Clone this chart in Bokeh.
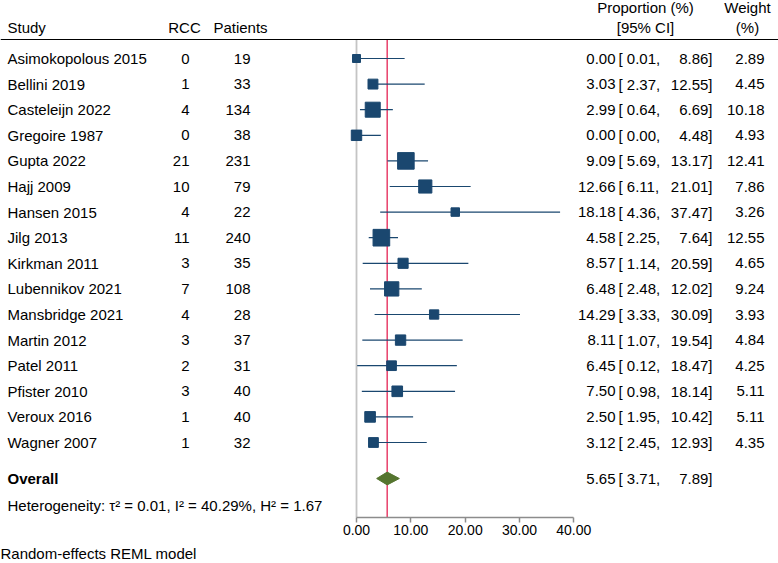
import numpy as np
from bokeh.plotting import figure
from bokeh.models import Range1d, FixedTicker, NumeralTickFormatter, Span, Title, ColumnDataSource
from bokeh.core.properties import value
from bokeh.embed import file_html
from bokeh.resources import INLINE

studies = ["Asimokopolous 2015", "Bellini 2019", "Casteleijn 2022", "Gregoire 1987",
           "Gupta 2022", "Hajj 2009", "Hansen 2015", "Jilg 2013", "Kirkman 2011",
           "Lubennikov 2021", "Mansbridge 2021", "Martin 2012", "Patel 2011",
           "Pfister 2010", "Veroux 2016", "Wagner 2007"]
rcc = [0, 1, 4, 0, 21, 10, 4, 11, 3, 7, 4, 3, 2, 3, 1, 1]
patients = [19, 33, 134, 38, 231, 79, 22, 240, 35, 108, 28, 37, 31, 40, 40, 32]
prop = [0.00, 3.03, 2.99, 0.00, 9.09, 12.66, 18.18, 4.58, 8.57, 6.48, 14.29, 8.11, 6.45, 7.50, 2.50, 3.12]
lower = [0.01, 2.37, 0.64, 0.00, 5.69, 6.11, 4.36, 2.25, 1.14, 2.48, 3.33, 1.07, 0.12, 0.98, 1.95, 2.45]
upper = [8.86, 12.55, 6.69, 4.48, 13.17, 21.01, 37.47, 7.64, 20.59, 12.02, 30.09, 19.54, 18.47, 18.14, 10.42, 12.93]
weight = [2.89, 4.45, 10.18, 4.93, 12.41, 7.86, 3.26, 12.55, 4.65, 9.24, 3.93, 4.84, 4.25, 5.11, 5.11, 4.35]
overall_est = 5.65
overall_lower = 3.71
overall_upper = 7.89
tau2, i2, h2 = 0.01, 40.29, 1.67
x_ticks = [0, 10, 20, 30, 40]

FONT = value("Liberation Sans")
FS = "15px"
BLUE = "#1a476f"
GREEN = "#55752f"
RED = "#e8406a"

n = len(studies)
rows = list(range(n))

ROW0, ROWH = 58.0, 25.6
def dy(page_y):
    return (page_y - ROW0) / ROWH

PX = 5.433
def dx(page_x):
    return (page_x - 356) / PX

row_overall = dy(478)
row_het = dy(505)
row_head = dy(27)
row_head1 = dy(7)
row_head2 = dy(27)
row_rule = dy(39)

FRAME_H = 517
x_start, x_end = dx(0), dx(778)
y_top = dy(0)
y_bot = dy(FRAME_H)

p = figure(frame_width=778, frame_height=FRAME_H, output_backend="svg", toolbar_location=None,
           x_range=Range1d(x_start, x_end), y_range=Range1d(y_bot, y_top),
           y_axis_type=None, min_border_left=0, min_border_right=0,
           min_border_top=0, min_border_bottom=0)
p.outline_line_color = None
p.xgrid.visible = False
p.ygrid.visible = False
p.background_fill_color = "white"
p.border_fill_color = "white"

ax = p.xaxis[0]
ax.ticker = FixedTicker(ticks=x_ticks)
ax.bounds = (x_ticks[0], x_ticks[-1])
ax.formatter = NumeralTickFormatter(format="0.00")
ax.major_label_text_font = "Liberation Sans"
ax.major_label_text_font_size = "14px"
ax.major_label_text_color = "black"
ax.axis_line_color = "#8c8c8c"
ax.axis_line_width = 1.5
ax.major_tick_line_color = "#8c8c8c"
ax.major_tick_line_width = 1.5
ax.major_tick_out = 5
ax.major_tick_in = 0
ax.minor_tick_line_color = None
ax.major_label_standoff = 2

# header rule
p.add_layout(Span(location=row_rule, dimension="width", line_color="black", line_width=1.2))

# reference lines
p.segment(x0=[0], y0=[row_rule], x1=[0], y1=[y_bot], line_color="#c4c4c4", line_width=1.8)
p.segment(x0=[overall_est], y0=[row_rule], x1=[overall_est], y1=[y_bot], line_color=RED, line_width=1.5)

src = ColumnDataSource(dict(
    y=rows, study=studies, rcc=[str(v) for v in rcc], pat=[str(v) for v in patients],
    prop=prop, lower=lower, upper=upper, weight=weight,
    size=[4.7 * np.sqrt(w) for w in weight],
    est_txt=[f"{v:.2f}" for v in prop],
    lo_txt=[f"[ {v:.2f}," for v in lower],
    up_txt=[f"{v:.2f}]" for v in upper],
    w_txt=[f"{v:.2f}" for v in weight],
))

p.segment(x0="lower", y0="y", x1="upper", y1="y", source=src, line_color=BLUE, line_width=1.2)
p.scatter(x="prop", y="y", size="size", marker="square", source=src,
          fill_color=BLUE, line_color=BLUE)

# overall diamond
hh = 0.25
p.patch(x=[overall_lower, overall_est, overall_upper, overall_est],
        y=[row_overall, row_overall - hh, row_overall, row_overall + hh],
        fill_color=GREEN, line_color=GREEN)

def txt(x, y, t, align, src_=None, style="normal"):
    kw = dict(text_font=FONT, text_font_size=FS, text_align=align, text_baseline="middle",
              text_color="black", text_font_style=style)
    if src_ is not None:
        p.text(x=x, y=y, text=t, source=src_, **kw)
    else:
        p.text(x=[x], y=[y], text=[t], **kw)

# columns
txt(dx(7), "y", "study", "left", src)
txt(dx(189), "y", "rcc", "right", src)
txt(dx(250), "y", "pat", "right", src)
txt(dx(615), "y", "est_txt", "right", src)
txt(dx(618), "y", "lo_txt", "left", src)
txt(dx(712), "y", "up_txt", "right", src)
txt(dx(764), "y", "w_txt", "right", src)

# headers
txt(dx(7), row_head, "Study", "left")
txt(dx(184), row_head, "RCC", "center")
txt(dx(240), row_head, "Patients", "center")
txt(dx(645), row_head1, "Proportion (%)", "center")
txt(dx(645), row_head2, "[95% CI]", "center")
txt(dx(747), row_head1, "Weight", "center")
txt(dx(747), row_head2, "(%)", "center")

# overall
txt(dx(7), row_overall, "Overall", "left", style="bold")
txt(dx(615), row_overall, f"{overall_est:.2f}", "right")
txt(dx(618), row_overall, f"[ {overall_lower:.2f},", "left")
txt(dx(712), row_overall, f"{overall_upper:.2f}]", "right")
txt(dx(7), row_het, f"Heterogeneity: \u03c4\u00b2 = {tau2:.2f}, I\u00b2 = {i2:.2f}%, H\u00b2 = {h2:.2f}", "left")

p.add_layout(Title(text="Random-effects REML model", align="left", text_font="Liberation Sans",
                   text_font_size=FS, text_font_style="normal", text_color="black",
                   standoff=11), "below")

open("out.html", "w").write(file_html(p, INLINE))
